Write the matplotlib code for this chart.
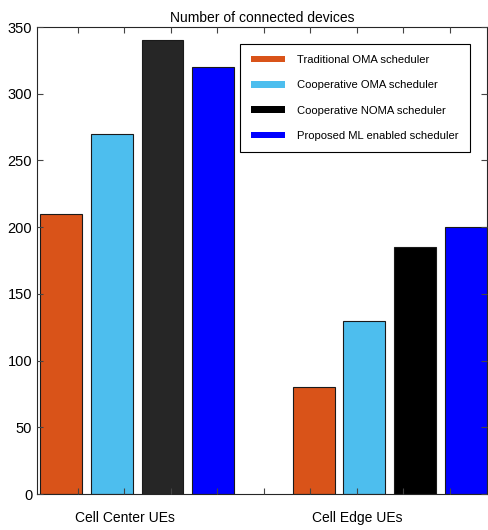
import matplotlib.pyplot as plt
from matplotlib.patches import Patch

# dados
grupos = ['Cell Center UEs', 'Cell Edge UEs']
series = ['Traditional OMA scheduler', 'Cooperative OMA scheduler',
          'Cooperative NOMA scheduler', 'Proposed ML enabled scheduler']
center_vals = [210, 270, 340, 320]
edge_vals = [80, 130, 185, 200]

cores_center = ['#D95319', '#4DBEEE', '#262626', '#0000FF']
cores_edge = ['#D95319', '#4DBEEE', '#000000', '#0000FF']

plt.rcParams['font.family'] = ['Liberation Sans', 'DejaVu Sans']

fig = plt.figure(figsize=(4.88, 5.30), dpi=100)
ax = fig.add_axes([0.0758, 0.0679, 0.922, 0.881])

# posicoes das barras (unidades do eixo x)
pos_center = [0.634, 1.731, 2.817, 3.903]
pos_edge = [6.075, 7.161, 8.247, 9.344]
largura = 0.9

ax.bar(pos_center, center_vals, width=largura, color=cores_center,
       edgecolor='#1a1a1a', linewidth=0.8, zorder=1)
ax.bar(pos_edge, edge_vals, width=largura, color=cores_edge,
       edgecolor='#1a1a1a', linewidth=0.8, zorder=1)

ax.set_xlim(0.118, 9.8)
ax.set_ylim(0, 350)
ax.set_yticks(range(0, 351, 50))
ax.set_xticks(range(1, 10))
rotulos = [''] * 9
rotulos[1] = grupos[0]
rotulos[6] = grupos[1]
ax.set_xticklabels(rotulos)
ax.tick_params(direction='in', top=True, right=True, length=4, width=0.8,
               labelsize=10.5, color='#444444')
ax.tick_params(axis='x', pad=12, labelsize=10)
for s in ax.spines.values():
    s.set_linewidth(0.8)
    s.set_color('#262626')
ax.set_axisbelow(False)

ax.set_title('Number of connected devices', fontsize=10, pad=4)

handles = [Patch(facecolor=c, edgecolor='none') for c in cores_edge]
leg = ax.legend(handles, series, loc='upper right', bbox_to_anchor=(0.962, 0.964),
                borderaxespad=0, fancybox=False, edgecolor='black', framealpha=1,
                fontsize=8.1, handlelength=3.0, handleheight=0.5, labelspacing=1.35,
                borderpad=1.0, handletextpad=1.1)
leg.get_frame().set_linewidth(0.8)

plt.savefig('out.png', dpi=100)
